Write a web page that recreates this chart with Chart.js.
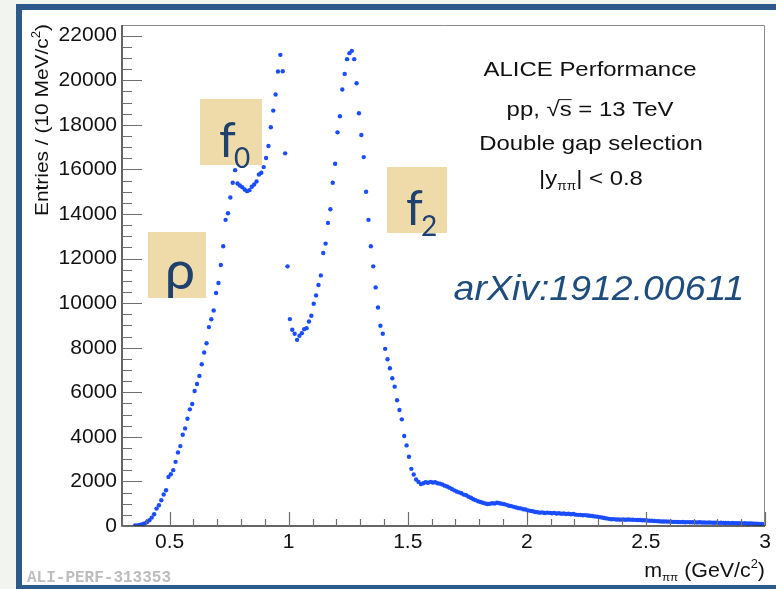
<!doctype html>
<html>
<head>
<meta charset="utf-8">
<title>ALICE pi pi invariant mass</title>
<script src="https://cdn.jsdelivr.net/npm/chart.js@4.4.1/dist/chart.umd.min.js"></script>
<style>
html, body { margin:0; padding:0; background:#f2f4ef; overflow:hidden; }
#frame {
  position:absolute; left:16px; top:4px; width:800px; height:587px;
  box-sizing:border-box; border:6px solid #2c5a8a; background:#fff;
}
#wrap { position:absolute; left:0; top:0; width:776px; height:589px; }
</style>
</head>
<body>
<div id="frame"></div>
<div id="wrap"><canvas id="myChart" width="776" height="589"></canvas></div>

<script>
// histogram binning (GeV/c^2), 10 MeV bins
var binLow = 0.35;
var binWidth = 0.01;

// entries per bin (0.355 ... 2.995)
var counts = [
  20, 30, 50, 80, 110, 180, 256, 376, 526, 781,
  931, 1156, 1412, 1606, 2204, 2325, 2505, 2879, 3300, 3585,
  4094, 4380, 4813, 5235, 5474, 6059, 6374, 6734, 7258, 7783,
  8203, 8924, 9280, 9672, 10453, 10903, 11712, 12550, 13736, 14034,
  14740, 15401, 15968, 15370, 15280, 15204, 15100, 15025, 15070, 15220,
  15325, 15460, 15775, 15850, 16105, 16510, 17050, 17890, 18640, 19360,
  20395, 21140, 20408, 16720, 11650, 9284, 8803, 8623, 8353, 8533,
  8653, 8833, 8878, 9176, 9432, 9972, 10346, 10812, 11245, 12252,
  12671, 13600, 14213, 15401, 16256, 17664, 18384, 19584, 20285, 20947,
  21217, 21320, 20947, 19868, 18519, 17543, 16553, 14996, 13736, 12550,
  11650, 10705, 9806, 8983, 8623, 7948, 7485, 7080, 6630, 6252,
  5640, 5204, 4786, 4035, 3616, 3104, 2564, 2312, 2087, 1979,
  1880, 1920, 1960, 1940, 1980, 1950, 1960, 1920, 1900, 1860,
  1810, 1770, 1720, 1660, 1600, 1550, 1510, 1470, 1410, 1380,
  1310, 1270, 1200, 1160, 1110, 1080, 1040, 1010, 990, 1000,
  1020, 1010, 1040, 1020, 1000, 980, 950, 910, 890, 860,
  830, 800, 790, 750, 740, 700, 680, 660, 630, 620,
  600, 610, 580, 600, 590, 570, 590, 560, 570, 550,
  560, 540, 550, 530, 540, 510, 500, 500, 480, 490,
  470, 460, 450, 430, 420, 400, 380, 360, 340, 320,
  300, 310, 290, 295, 285, 290, 280, 295, 285, 280,
  275, 270, 270, 260, 255, 250, 240, 235, 225, 220,
  210, 205, 200, 200, 195, 190, 185, 185, 180, 175,
  180, 170, 175, 165, 170, 165, 160, 165, 155, 160,
  150, 155, 150, 145, 150, 140, 145, 140, 135, 140,
  130, 135, 130, 125, 130, 120, 125, 115, 110, 110,
  105, 100, 95, 90, 85
];

var xRange = [0.3, 3];
var yRange = [0, 22480];
var xTickVals = [0.5, 1, 1.5, 2, 2.5, 3];
var xTickLabels = ['0.5', '1', '1.5', '2', '2.5', '3'];
var yTickVals = [0, 2000, 4000, 6000, 8000, 10000, 12000, 14000, 16000, 18000, 20000, 22000];
var xMinor = 0.1, yMinor = 500;

var infoLines = ['ALICE Performance', 'pp, \u221As = 13 TeV', 'Double gap selection', '|y\u03C0\u03C0| < 0.8'];
var refText = 'arXiv:1912.00611';
var perfId = 'ALI-PERF-313353';

var points = counts.map(function (c, i) {
  return { x: +(binLow + binWidth * (i + 0.5)).toFixed(3), y: c };
});

var SANS = '"Liberation Sans", Arial, Helvetica, sans-serif';

// draw a run of text pieces [{t, s, dy}] starting at x, stretched sideways
function runWidth(ctx, parts, stretch) {
  var w = 0;
  parts.forEach(function (p) {
    ctx.font = (p.f || '') + ' ' + p.s + 'px ' + (p.fam || SANS);
    w += ctx.measureText(p.t).width * stretch;
  });
  return w;
}
function drawRun(ctx, parts, x, y, stretch, align) {
  var w = runWidth(ctx, parts, stretch);
  var cx = x;
  if (align === 'center') cx = x - w / 2;
  if (align === 'right') cx = x - w;
  parts.forEach(function (p) {
    ctx.font = (p.f || '') + ' ' + p.s + 'px ' + (p.fam || SANS);
    ctx.save();
    ctx.translate(cx, y + (p.dy || 0));
    ctx.scale(stretch, 1);
    ctx.textAlign = 'left';
    ctx.textBaseline = 'alphabetic';
    ctx.fillText(p.t, 0, 0);
    ctx.restore();
    if (p.over) {
      var ww = ctx.measureText(p.t).width * stretch;
      ctx.beginPath();
      ctx.lineWidth = 1;
      ctx.moveTo(cx - 1, y - p.s * 0.78);
      ctx.lineTo(cx + ww, y - p.s * 0.78);
      ctx.stroke();
    }
    cx += ctx.measureText(p.t).width * stretch;
  });
}

var deco = {
  id: 'deco',
  afterDatasetsDraw: function (chart) {
    var c = chart.ctx, a = chart.chartArea;
    var xs = chart.scales.x, ys = chart.scales.y;
    c.save();
    // frame
    c.strokeStyle = '#8a8a8a';
    c.lineWidth = 1;
    c.beginPath();
    c.moveTo(a.left, a.top + 0.5); c.lineTo(a.right - 0.5, a.top + 0.5); c.lineTo(a.right - 0.5, a.bottom);
    c.stroke();
    // axis lines
    c.strokeStyle = '#333';
    c.lineWidth = 1.5;
    c.beginPath();
    c.moveTo(a.left, a.top); c.lineTo(a.left, a.bottom); c.lineTo(a.right, a.bottom);
    c.stroke();
    // ticks pointing inwards, ROOT style
    c.strokeStyle = '#6e6e6e';
    c.lineWidth = 1.2;
    c.beginPath();
    for (var v = yRange[0]; v <= yRange[1]; v += yMinor) {
      var py = Math.round(ys.getPixelForValue(v)) + 0.5;
      var len = (yTickVals.indexOf(v) >= 0) ? 20 : 10;
      c.moveTo(a.left, py); c.lineTo(a.left + len, py);
    }
    for (var k = Math.round(xRange[0] / xMinor); k <= Math.round(xRange[1] / xMinor); k++) {
      var px = Math.round(xs.getPixelForValue(k * xMinor)) + 0.5;
      var l2 = (k % 5 === 0) ? 14 : 7;
      c.moveTo(px, a.bottom); c.lineTo(px, a.bottom - l2);
    }
    c.stroke();

    // resonance labels
    c.fillStyle = '#efdba9';
    c.fillRect(200, 99, 62, 66);
    c.fillRect(148, 232, 58, 66);
    c.fillRect(387, 167, 60, 66);
    c.fillStyle = '#1f416e';
    c.textAlign = 'left';
    c.textBaseline = 'alphabetic';
    var LAB = 'Lato, "Open Sans", sans-serif';
    c.font = '48px ' + LAB;
    c.fillText('f', 219, 157);
    c.fillText('f', 406, 225);
    c.font = '28px ' + LAB;
    c.fillText('0', 234, 168);
    c.fillText('2', 421, 236);
    c.font = '54px ' + LAB;
    c.textAlign = 'center';
    c.fillText('\u03C1', 180, 289);

    // text block
    c.fillStyle = '#111';
    c.strokeStyle = '#111';
    var st = 1.14;
    drawRun(c, [{ t: infoLines[0], s: 21 }], 590, 76, st, 'center');
    drawRun(c, [{ t: 'pp, ', s: 21 }, { t: '\u221A', s: 21 }, { t: 's', s: 21, over: true }, { t: ' = 13 TeV', s: 21 }], 590, 116, st, 'center');
    drawRun(c, [{ t: infoLines[2], s: 21 }], 591, 150, st, 'center');
    drawRun(c, [{ t: '|y', s: 21 }, { t: '\u03C0\u03C0', s: 12, dy: 5 }, { t: '| < 0.8', s: 21 }], 591, 185, st, 'center');

    // arXiv reference
    c.fillStyle = '#1f4e7e';
    drawRun(c, [{ t: refText, s: 35, f: 'italic' }], 599, 300, 1.07, 'center');

    // axis titles
    c.fillStyle = '#111';
    drawRun(c, [{ t: 'm', s: 20 }, { t: '\u03C0\u03C0', s: 11, dy: 4 }, { t: ' (GeV/c', s: 20 }, { t: '2', s: 12, dy: -9 }, { t: ')', s: 20 }], 765, 577, 1.07, 'right');
    c.save();
    c.translate(48, 24);
    c.rotate(-Math.PI / 2);
    drawRun(c, [{ t: 'Entries / (10 MeV/c', s: 19 }, { t: '2', s: 12, dy: -8 }, { t: ')', s: 19 }], 0, 0, 1.1, 'right');
    c.restore();

    // performance id
    c.fillStyle = '#bdbdbd';
    c.font = 'bold 16px "Liberation Mono", "DejaVu Sans Mono", monospace';
    c.textAlign = 'left';
    c.fillText(perfId, 27, 582);
    c.restore();
  }
};

var ctx = document.getElementById('myChart').getContext('2d');
var chart = new Chart(ctx, {
  type: 'scatter',
  data: {
    datasets: [{
      label: 'pi pi',
      data: points,
      pointRadius: 2.2,
      pointHoverRadius: 2.2,
      pointBorderWidth: 0,
      backgroundColor: '#1a4dff',
      borderColor: '#1a4dff',
      showLine: false
    }]
  },
  options: {
    responsive: false,
    animation: false,
    layout: { padding: { left: 0, top: 25, right: 11, bottom: 0 } },
    plugins: { legend: { display: false }, tooltip: { enabled: false } },
    scales: {
      x: {
        type: 'linear', min: xRange[0], max: xRange[1],
        grid: { display: false, drawTicks: false, tickLength: 0 },
        border: { display: false },
        afterBuildTicks: function (s) { s.ticks = xTickVals.map(function (v) { return { value: v }; }); },
        ticks: {
          padding: 4, color: '#111', autoSkip: false,
          font: { family: SANS, size: 21 },
          maxRotation: 0,
          callback: function (v) { return xTickLabels[xTickVals.indexOf(v)]; }
        },
        afterFit: function (s) { s.height = 63; }
      },
      y: {
        type: 'linear', min: yRange[0], max: yRange[1],
        grid: { display: false, drawTicks: false, tickLength: 0 },
        border: { display: false },
        afterBuildTicks: function (s) { s.ticks = yTickVals.map(function (v) { return { value: v }; }); },
        ticks: {
          padding: 5, color: '#111', autoSkip: false,
          font: { family: SANS, size: 21 },
          callback: function (v) { return String(v); }
        },
        afterFit: function (s) { s.width = 122; }
      }
    }
  },
  plugins: [deco]
});
</script>
</body>
</html>
